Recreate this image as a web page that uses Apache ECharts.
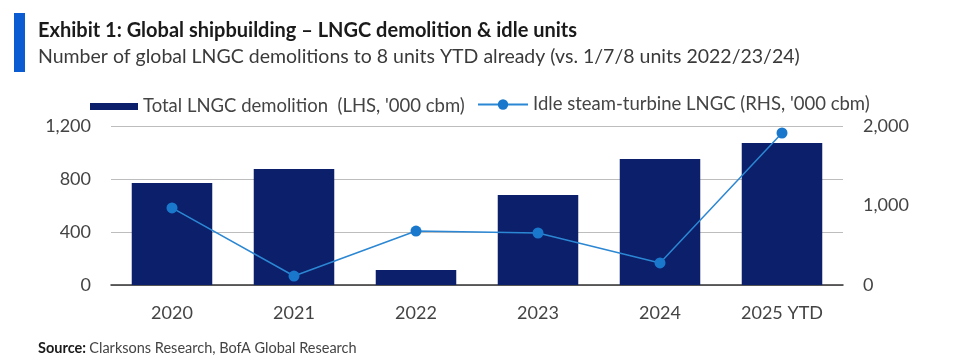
<!DOCTYPE html>
<html><head><meta charset="utf-8">
<script src="https://cdn.jsdelivr.net/npm/echarts@6/dist/echarts.min.js"></script>
<style>html,body{margin:0;padding:0;background:#fff}#c{width:966px;height:363px}</style>
</head><body><div id="c"></div>
<script>
const categories = ['2020','2021','2022','2023','2024','2025 YTD'];
const demolition = [770, 875, 113, 679, 951, 1072];
const idle = [969, 113, 679, 654, 277, 1912];
const leftTicks = [0, 400, 800, 1200];
const rightTicks = [0, 1000, 2000];

const FONT = 'Lato';
const chart = echarts.init(document.getElementById('c'));
chart.setOption({
  backgroundColor: '#fff',
  animation: false,
  textStyle: {fontFamily: FONT},
  graphic: [
    {type: 'rect', left: 14, top: 13, shape: {width: 11, height: 59}, style: {fill: '#0b5bd3'}},
    {type: 'text', left: 38, top: 21, style: {text: 'Exhibit 1: Global shipbuilding – LNGC demolition & idle units', font: 'bold 20px ' + FONT, fill: '#1a1a1a'}},
    {type: 'text', left: 38, top: 47, style: {text: 'Number of global LNGC demolitions to 8 units YTD already (vs. 1/7/8 units 2022/23/24)', font: '19.5px ' + FONT, fill: '#3a3a3a'}},
    {type: 'text', left: 38, top: 341, style: {rich: {b: {font: 'bold 14.5px ' + FONT, fill: '#1a1a1a'}, n: {font: '14.5px ' + FONT, fill: '#444'}}, text: '{b|Source:} {n|Clarksons Research, BofA Global Research}'}}
  ],
  legend: [
    {left: 85, top: 92,
     itemWidth: 48, itemHeight: 7,
     textStyle: {fontSize: 18.5, color: '#444', fontFamily: FONT},
     data: [{name: "Total LNGC demolition  (LHS, '000 cbm)", icon: 'rect'}]},
    {left: 472, top: 90,
     itemWidth: 50, itemHeight: 13,
     textStyle: {fontSize: 18.5, color: '#444', fontFamily: FONT},
     data: [{name: "Idle steam-turbine LNGC (RHS, '000 cbm)"}]}
  ],
  grid: {left: 111, right: 123, top: 126, bottom: 78, containLabel: false},
  xAxis: {
    type: 'category', data: categories,
    axisTick: {show: false},
    axisLine: {lineStyle: {color: '#333', width: 1.5}},
    axisLabel: {fontSize: 18, color: '#444', margin: 19}
  },
  yAxis: [
    {type: 'value', min: 0, max: 1200, interval: 400,
     axisLabel: {fontSize: 18, color: '#444', margin: 20, formatter: v => leftTicks.includes(v) ? v.toLocaleString('en-US') : ''},
     splitLine: {lineStyle: {color: '#bdbdbd', width: 1}}},
    {type: 'value', min: 0, max: 2000, interval: 1000, position: 'right',
     axisLabel: {fontSize: 18, color: '#444', margin: 20, formatter: v => rightTicks.includes(v) ? v.toLocaleString('en-US') : ''},
     splitLine: {show: false}}
  ],
  series: [
    {name: "Total LNGC demolition  (LHS, '000 cbm)", type: 'bar', data: demolition,
     barWidth: '66%', itemStyle: {color: '#0c1f6b'}},
    {name: "Idle steam-turbine LNGC (RHS, '000 cbm)", type: 'line', yAxisIndex: 1, data: idle,
     symbol: 'circle', symbolSize: 11, lineStyle: {color: '#2b87d3', width: 1.5},
     itemStyle: {color: '#1a78cc'}}
  ]
});
</script></body></html>
